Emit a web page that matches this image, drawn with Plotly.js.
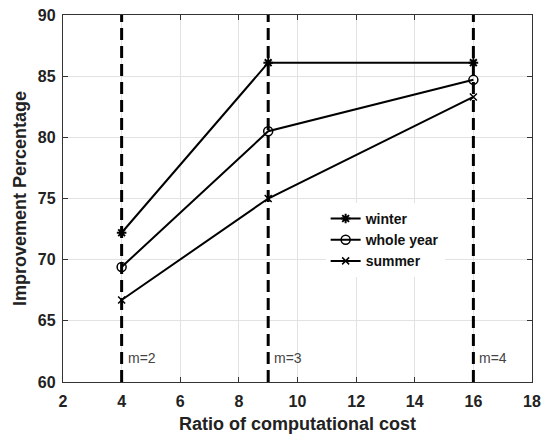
<!DOCTYPE html>
<html>
<head>
<meta charset="utf-8">
<script src="https://cdn.plot.ly/plotly-3.0.1.min.js"></script>
<style>
  html, body { margin: 0; padding: 0; background: #fff; }
  #chart { width: 547px; height: 434px; }
  #chart .xtick text, #chart .ytick text { font-weight: bold !important; }
</style>
</head>
<body>
<div id="chart"></div>
<script>
// Computational cost ratio for each subdivision level
const costRatio = [4, 9, 16];

// Improvement percentage per season
const winter = [72.2, 86.1, 86.1];
const wholeYear = [69.4, 80.5, 84.7];
const summer = [66.7, 75.0, 83.3];

const seriesNames = ['winter', 'whole year', 'summer'];

// Subdivision markers drawn as dashed verticals
const mPositions = [4, 9, 16];
const mLabels = ['m=2', 'm=3', 'm=4'];

const xTicks = [2, 4, 6, 8, 10, 12, 14, 16, 18];
const yTicks = [60, 65, 70, 75, 80, 85, 90];

const FONT = 'Liberation Sans, Arial, sans-serif';
const lineStyle = { color: '#000', width: 2 };
const bold = v => '<b>' + v + '</b>';

const traces = [
  {
    x: costRatio, y: winter, name: seriesNames[0], mode: 'lines+markers',
    line: lineStyle,
    marker: { symbol: 'asterisk-open', size: 8, color: '#000', line: { color: '#000', width: 2 } }
  },
  {
    x: costRatio, y: wholeYear, name: seriesNames[1], mode: 'lines+markers',
    line: lineStyle,
    marker: { symbol: 'circle-open', size: 9, color: '#000', line: { color: '#000', width: 1.5 } }
  },
  {
    x: costRatio, y: summer, name: seriesNames[2], mode: 'lines+markers',
    line: lineStyle,
    marker: { symbol: 'x-thin-open', size: 7, color: '#000', line: { color: '#000', width: 1.5 } }
  }
];

const shapes = mPositions.map(v => ({
  type: 'line', xref: 'x', yref: 'paper', x0: v, x1: v, y0: 0, y1: 1,
  line: { color: '#000', width: 3, dash: '12px,6px' },
  layer: 'above'
}));

const annotations = mPositions.map((v, i) => ({
  x: v, y: 62, xref: 'x', yref: 'y', text: mLabels[i],
  showarrow: false, xanchor: 'left', xshift: 4,
  font: { family: FONT, size: 14, color: '#444' }
}));

const axisCommon = {
  showline: true, linecolor: '#333', linewidth: 1.2, mirror: 'ticks',
  ticks: 'inside', ticklen: 5, tickcolor: '#333', tickwidth: 1,
  showgrid: true, gridcolor: '#e2e2e2', gridwidth: 1,
  zeroline: false,
  tickfont: { family: FONT, size: 16, color: '#222', weight: 'bold' }
};

const layout = {
  width: 547, height: 434,
  margin: { l: 63, r: 15, t: 15, b: 52 },
  paper_bgcolor: '#fff', plot_bgcolor: '#fff',
  showlegend: true,
  xaxis: Object.assign({}, axisCommon, {
    range: [2, 18], tickvals: xTicks, ticktext: xTicks.map(bold),
    ticklabelstandoff: 5,
    title: { text: bold('Ratio of computational cost'), standoff: 10,
      font: { family: FONT, size: 18, color: '#222' } }
  }),
  yaxis: Object.assign({}, axisCommon, {
    range: [60, 90], tickvals: yTicks, ticktext: yTicks.map(bold),
    ticklabelstandoff: 3,
    title: { text: bold('Improvement Percentage'), standoff: 6,
      font: { family: FONT, size: 18, color: '#222' } }
  }),
  legend: {
    x: 0.56, y: 0.488, xanchor: 'left', yanchor: 'top',
    bgcolor: '#fff', borderwidth: 0,
    tracegroupgap: 0, itemwidth: 30,
    font: { family: FONT, size: 14, color: '#111', weight: 700 }
  },
  shapes: shapes,
  annotations: annotations
};

Plotly.newPlot('chart', traces, layout, { displayModeBar: false, staticPlot: true });
</script>
</body>
</html>
